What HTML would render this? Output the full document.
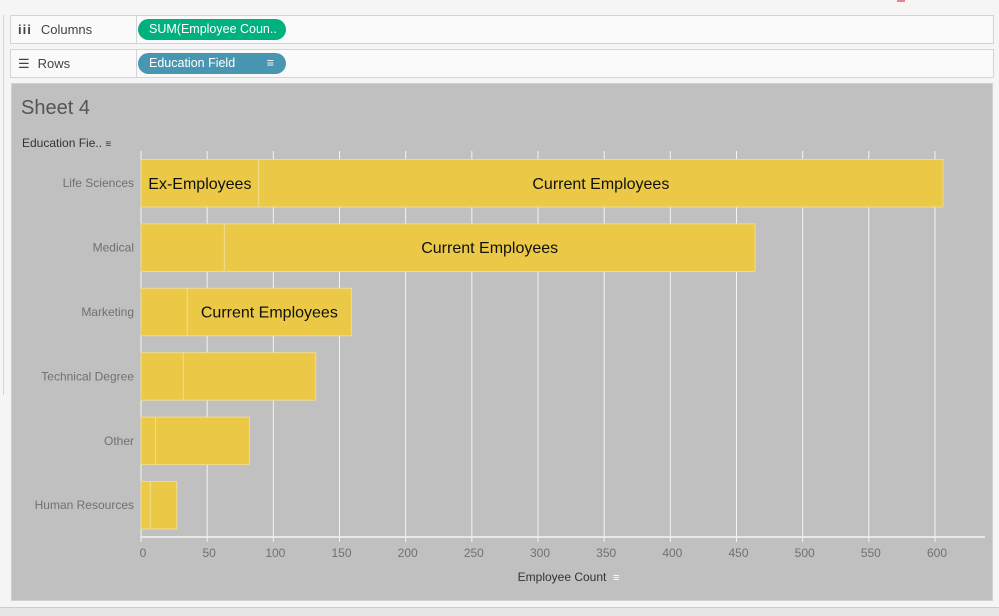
<!DOCTYPE html>
<html><head><meta charset="utf-8">
<style>
body{margin:0;width:999px;height:615px;background:#f5f5f5;font-family:"Liberation Sans",sans-serif;position:relative;overflow:hidden}
.abs{position:absolute}
.shelf{position:absolute;left:10px;width:982px;height:27px;background:#fafafa;border:1px solid #d4d4d4}
.shelf .lbl{position:absolute;left:0;top:0;width:125px;height:27px;border-right:1px solid #d4d4d4;font-size:13px;color:#444;line-height:27px}
.pill{position:absolute;left:127px;top:3px;height:21px;width:148px;border-radius:11px;color:#fff;font-size:12.5px;line-height:21px;padding-left:11px;box-sizing:border-box}
</style></head><body>
<div class="abs" style="left:0;top:0;width:999px;height:10px;background:#f5f5f5"></div>
<div class="abs" style="left:897px;top:0;width:8px;height:2px;background:#f08090"></div>
<div class="abs" style="left:0;top:15px;width:3px;height:380px;border-right:1px solid #d4d4d4"></div>
<div class="shelf" style="top:15px">
 <div class="lbl"><span style="margin-left:7px;font-weight:bold;letter-spacing:1px">iii</span><span style="margin-left:9px">Columns</span></div>
 <div class="pill" style="background:#00b180">SUM(Employee Coun..</div>
</div>
<div class="shelf" style="top:49px">
 <div class="lbl"><span style="margin-left:7px">☰</span><span style="margin-left:8px">Rows</span></div>
 <div class="pill" style="background:#4996b2">Education Field<span style="position:absolute;right:12px">≡</span></div>
</div>
<div class="abs" style="left:11px;top:83px;width:982px;height:518px;background:#c0c0c0;border:1px solid #d0d0d0;box-sizing:border-box"></div>
<div class="abs" style="left:21px;top:97px;font-size:20px;color:#555">Sheet 4</div>
<div class="abs" style="left:22px;top:136px;font-size:12px;color:#333">Education Fie.. <span style="font-size:10px">≡</span></div>
<div class="abs" style="left:0;top:607px;width:999px;height:8px;background:#e6e6e6;border-top:1px solid #ccc"></div>
<svg class="abs" style="left:0;top:0" width="999" height="615">
<g id="g"></g></svg>
<script>
const categories=["Life Sciences","Medical","Marketing","Technical Degree","Other","Human Resources"];
const exEmployees=[89,63,35,32,11,7];
const totalEmployees=[606,464,159,132,82,27];
const ticks=[0,50,100,150,200,250,300,350,400,450,500,550,600];
const segLabels=[["Ex-Employees","Current Employees"],["","Current Employees"],["","Current Employees"],["",""],["",""],["",""]];
const x0=141,pxPer=(935-141)/600,top0=151,band=64.4;
const X=v=>x0+v*pxPer, Y=i=>top0+i*band;
const g=document.getElementById('g'),NS='http://www.w3.org/2000/svg';
function mk(t,a,txt){const e=document.createElementNS(NS,t);for(const k in a)e.setAttribute(k,a[k]);if(txt!==undefined)e.textContent=txt;g.appendChild(e);return e;}
ticks.forEach(t=>{
 const l=mk('line',{x1:X(t),x2:X(t),y1:151,y2:537,stroke:'#f4f4f4','stroke-width':1});
 
 
 const tk=mk('line',{x1:X(t),x2:X(t),y1:537,y2:542,stroke:'#f4f4f4'});
 
 
 const tx=mk('text',{x:X(t)+2,y:557,'text-anchor':'middle','font-size':12,fill:'#707070'},t);
 
 
});
const ax=mk('line',{x1:141,x2:985,y1:537,y2:537,stroke:'#f4f4f4','stroke-width':1.5});


categories.forEach((c,i)=>{
 const y=Y(i)+8.5,h=47.5;
 const lb=mk('text',{x:134,y:Y(i)+band/2+4,'text-anchor':'end','font-size':12,fill:'#707070'},c);
 
 
 const r1=mk('rect',{x:X(0),y:y,width:X(exEmployees[i])-X(0),height:h,fill:'#ebc846',stroke:'#f0dc90','stroke-width':1});
 
 
 const r2=mk('rect',{x:X(exEmployees[i]),y:y,width:X(totalEmployees[i])-X(exEmployees[i]),height:h,fill:'#ebc846',stroke:'#f0dc90','stroke-width':1});
 
 
 if(segLabels[i][0]){const t=mk('text',{x:(X(0)+X(exEmployees[i]))/2,y:y+h/2+5.5,'text-anchor':'middle','font-size':16,fill:'#111'},segLabels[i][0]);
  
  }
 if(segLabels[i][1]){const t=mk('text',{x:(X(exEmployees[i])+X(totalEmployees[i]))/2,y:y+h/2+5.5,'text-anchor':'middle','font-size':16,fill:'#111'},segLabels[i][1]);
  
  }
});
const at=mk('text',{x:562,y:581,'text-anchor':'middle','font-size':12,fill:'#333'},'Employee Count');


const ai=mk('text',{x:613,y:581,'font-size':11,fill:'#fff'},'≡');


</script>
</body></html>
